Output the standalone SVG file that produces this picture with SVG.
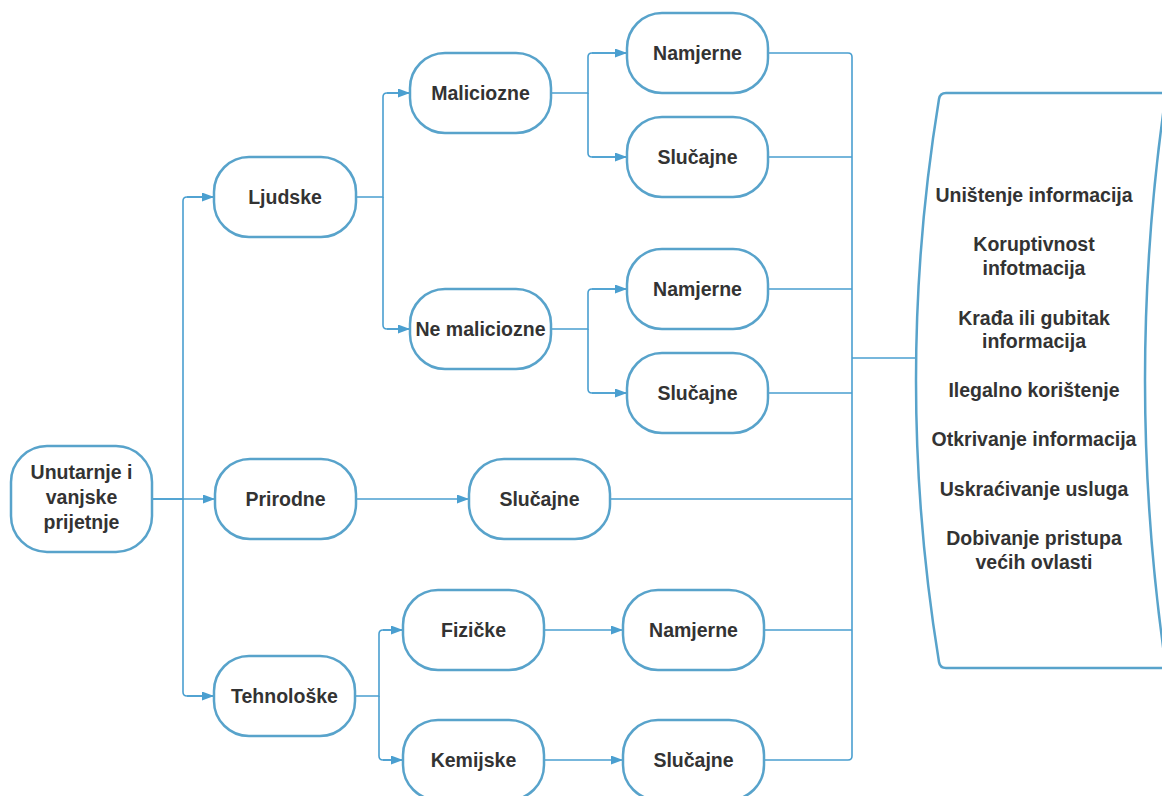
<svg xmlns="http://www.w3.org/2000/svg" width="1162" height="796" viewBox="0 0 1162 796">
<defs>
<marker id="arr" viewBox="0 0 12 9" refX="12" refY="4.5" markerWidth="12" markerHeight="9" markerUnits="userSpaceOnUse" orient="auto">
<path d="M0,0 L12,4.5 L0,9 z" fill="#4a9fd0"/>
</marker>
<style>
.n{fill:#fff;stroke:#58a3cb;stroke-width:2.5}
.t{font-family:"Liberation Sans",Arial,sans-serif;font-weight:bold;font-size:19.5px;fill:#333;text-anchor:middle}
.c{fill:none;stroke:#4a9fd0;stroke-width:1.6}
.a{marker-end:url(#arr)}
</style>
</defs>
<rect width="1162" height="796" fill="#fff"/>
<g id="connectors">
<path class="c" d="M152,499 H183 V201 Q183,197 187,197 H214"/>
<path class="c a" d="M187,197 H214"/>
<path class="c a" d="M152,499 H215"/>
<path class="c" d="M183,499 V692 Q183,696 187,696 H214"/>
<path class="c a" d="M187,696 H214"/>
<path class="c" d="M356,197 H383 V97 Q383,93 387,93 H410"/>
<path class="c a" d="M387,93 H410"/>
<path class="c" d="M383,197 V325 Q383,329 387,329 H410"/>
<path class="c a" d="M387,329 H410"/>
<path class="c" d="M551,93 H588 V57 Q588,53 592,53 H627"/>
<path class="c a" d="M592,53 H627"/>
<path class="c" d="M588,93 V153 Q588,157 592,157 H627"/>
<path class="c a" d="M592,157 H627"/>
<path class="c" d="M551,329 H588 V293 Q588,289 592,289 H627"/>
<path class="c a" d="M592,289 H627"/>
<path class="c" d="M588,329 V389 Q588,393 592,393 H627"/>
<path class="c a" d="M592,393 H627"/>
<path class="c a" d="M356,499 H469"/>
<path class="c" d="M355,696 H379 V634 Q379,630 383,630 H403"/>
<path class="c a" d="M383,630 H403"/>
<path class="c" d="M379,696 V756 Q379,760 383,760 H403"/>
<path class="c a" d="M383,760 H403"/>
<path class="c a" d="M544,630 H623"/>
<path class="c a" d="M544,760 H623"/>
<path class="c" d="M768,53 H848 Q852,53 852,57 V756 Q852,760 848,760 H764"/>
<path class="c" d="M768,157 H852 M768,289 H852 M768,393 H852 M610,499 H852 M764,630 H852"/>
<path class="c" d="M852,358 H917"/>
</g>
<g id="n-start"><rect class="n" x="11" y="446" width="141" height="106" rx="36"/>
<text class="t" x="81.5" y="479">Unutarnje i</text><text class="t" x="81.5" y="504">vanjske</text><text class="t" x="81.5" y="529">prijetnje</text></g>
<g id="n-ljudske"><rect class="n" x="214" y="157" width="142" height="80" rx="35"/><text class="t" x="285" y="204">Ljudske</text></g>
<g id="n-prirodne"><rect class="n" x="215" y="459" width="141" height="80" rx="35"/><text class="t" x="285.5" y="506">Prirodne</text></g>
<g id="n-tehnoloske"><rect class="n" x="214" y="656" width="141" height="80" rx="35"/><text class="t" x="284.5" y="703">Tehnološke</text></g>
<g id="n-maliciozne"><rect class="n" x="410" y="53" width="141" height="80" rx="35"/><text class="t" x="480.5" y="100">Maliciozne</text></g>
<g id="n-nemaliciozne"><rect class="n" x="410" y="289" width="141" height="80" rx="35"/><text class="t" x="480.5" y="336">Ne maliciozne</text></g>
<g id="n-namjerne1"><rect class="n" x="627" y="13" width="141" height="80" rx="35"/><text class="t" x="697.5" y="60">Namjerne</text></g>
<g id="n-slucajne1"><rect class="n" x="627" y="117" width="141" height="80" rx="35"/><text class="t" x="697.5" y="164">Slučajne</text></g>
<g id="n-namjerne2"><rect class="n" x="627" y="249" width="141" height="80" rx="35"/><text class="t" x="697.5" y="296">Namjerne</text></g>
<g id="n-slucajne2"><rect class="n" x="627" y="353" width="141" height="80" rx="35"/><text class="t" x="697.5" y="400">Slučajne</text></g>
<g id="n-slucajnep"><rect class="n" x="469" y="459" width="141" height="80" rx="35"/><text class="t" x="539.5" y="506">Slučajne</text></g>
<g id="n-fizicke"><rect class="n" x="403" y="590" width="141" height="80" rx="35"/><text class="t" x="473.5" y="637">Fizičke</text></g>
<g id="n-kemijske"><rect class="n" x="403" y="720" width="141" height="80" rx="35"/><text class="t" x="473.5" y="767">Kemijske</text></g>
<g id="n-namjerne3"><rect class="n" x="623" y="590" width="141" height="80" rx="35"/><text class="t" x="693.5" y="637">Namjerne</text></g>
<g id="n-slucajne3"><rect class="n" x="623" y="720" width="141" height="80" rx="35"/><text class="t" x="693.5" y="767">Slučajne</text></g>
<g id="n-posljedice">
<path class="n" d="M946,93 H1166 Q1124,380 1166,668 H946 Q940,668 939,662 Q893,380 939,99 Q940,93 946,93 Z"/>
<text class="t" x="1034" y="202">Uništenje informacija</text>
<text class="t" x="1034" y="251">Koruptivnost</text>
<text class="t" x="1034" y="275">infotmacija</text>
<text class="t" x="1034" y="325">Krađa ili gubitak</text>
<text class="t" x="1034" y="348">informacija</text>
<text class="t" x="1034" y="397">Ilegalno korištenje</text>
<text class="t" x="1034" y="446">Otkrivanje informacija</text>
<text class="t" x="1034" y="496">Uskraćivanje usluga</text>
<text class="t" x="1034" y="545">Dobivanje pristupa</text>
<text class="t" x="1034" y="569">većih ovlasti</text>
</g>
</svg>
